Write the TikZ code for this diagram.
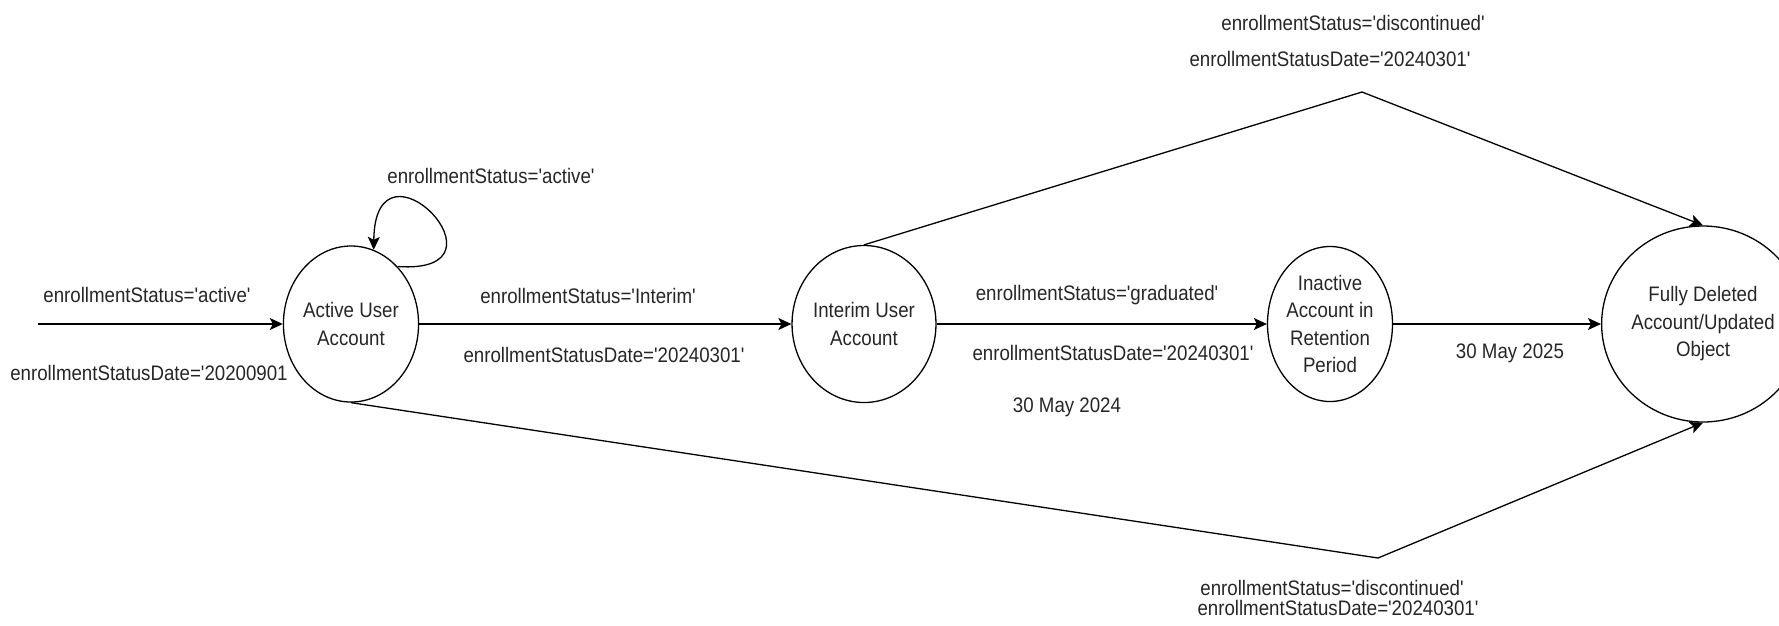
\documentclass[tikz,border=0pt]{standalone}
\usepackage{fontspec}
\setmainfont{Liberation Sans}[FakeStretch=0.89,Ligatures=TeXOff]
\usetikzlibrary{shapes.geometric,arrows.meta}
\begin{document}
\begin{tikzpicture}[x=1pt,y=-1pt,
  state/.style={draw,ellipse,line width=1.3pt,inner sep=0pt,align=center,
    font=\fontsize{21}{27.5}\selectfont,text=black!85},
  lbl/.style={inner sep=0pt,font=\fontsize{21}{25}\selectfont,text=black!85},
  conn/.style={line width=1.3pt,-{Stealth[length=13pt,width=12pt,inset=3pt]}},
  plain/.style={line width=1.3pt}]
\useasboundingbox (0,0) rectangle (1779,625);
\node[state,minimum width=124pt,minimum height=156pt] (A) at (351,324) {Active User\\Account};
\node[state,minimum width=117pt,minimum height=157pt] (I) at (864,324) {Interim User\\Account};
\node[state,minimum width=125pt,minimum height=155pt] (R) at (1330,324) {Inactive\\Account in\\Retention\\Period};
\node[state,minimum width=150pt,minimum height=196pt] (F) at (1703,324) {Fully Deleted\\Account/Updated\\Object};
\coordinate (start) at (38,324);
\coordinate (top) at (1362,92);
\coordinate (bot) at (1378,558);
\draw[conn] (start) -- (A);
\draw[conn] (A.east) -- (I.west);
\draw[conn] (I.east) -- (R.west);
\draw[conn] (R.east) -- (F.west);
\draw[conn] (A.51) .. controls (520,275) and (375,125) .. (A.73);
\draw[plain] (I.north) -- (top);
\draw[conn] (top) -- (F.north);
\draw[plain] (A.south) -- (bot);
\draw[conn] (bot) -- (F.south);
\node[lbl] (l1) at (147,295) {enrollmentStatus='active'};
\node[lbl] (l2) at (149,373) {enrollmentStatusDate='20200901};
\node[lbl] (l3) at (491,176) {enrollmentStatus='active'};
\node[lbl] (l4) at (588,296) {enrollmentStatus='Interim'};
\node[lbl] (l5) at (604,355) {enrollmentStatusDate='20240301'};
\node[lbl] (l6) at (1097,295) {enrollmentStatus='graduated'};
\node[lbl] (l7) at (1113,353) {enrollmentStatusDate='20240301'};
\node[lbl] (l8) at (1067,407) {30 May 2024};
\node[lbl] (l9) at (1510,353) {30 May 2025};
\node[lbl] (l10) at (1353,23) {enrollmentStatus='discontinued'};
\node[lbl] (l11) at (1330,59) {enrollmentStatusDate='20240301'};
\node[lbl] (l12) at (1332,588) {enrollmentStatus='discontinued'};
\node[lbl] (l13) at (1338,608) {enrollmentStatusDate='20240301'};
\end{tikzpicture}
\end{document}
